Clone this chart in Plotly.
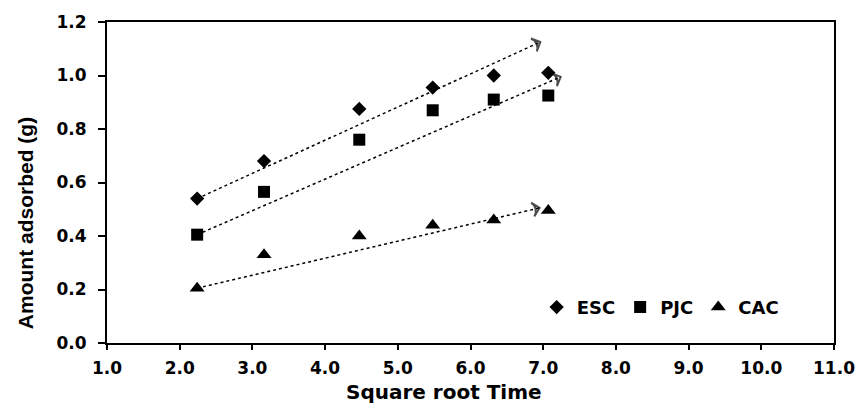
import plotly.graph_objects as go

# Square root of contact time (min^0.5)
sqrt_time = [2.24, 3.16, 4.47, 5.48, 6.32, 7.07]

# Amount adsorbed (g) for each adsorbent
esc = [0.54, 0.68, 0.875, 0.955, 1.00, 1.01]
pjc = [0.405, 0.565, 0.76, 0.87, 0.91, 0.925]
cac = [0.205, 0.33, 0.40, 0.44, 0.46, 0.495]

series_names = ["ESC", "PJC", "CAC"]
series_values = [esc, pjc, cac]
series_symbols = ["diamond", "square", "triangle-up"]
series_sizes = [11, 12, 13]

# Hand-drawn trend arrows: start and end (x, y) for each series
trend_start = [(2.24, 0.54), (2.24, 0.405), (2.24, 0.205)]
trend_end = [(6.96, 1.125), (7.24, 0.995), (6.95, 0.505)]

x_ticks = [1.0, 2.0, 3.0, 4.0, 5.0, 6.0, 7.0, 8.0, 9.0, 10.0, 11.0]
y_ticks = [0.0, 0.2, 0.4, 0.6, 0.8, 1.0, 1.2]

tick_font = dict(family="DejaVu Sans", size=17, color="black", weight="bold")

fig = go.Figure()

# Dotted trend lines ending in an open arrow head
for (x0, y0), (x1, y1) in zip(trend_start, trend_end):
    fig.add_trace(go.Scatter(
        x=[x0, x1], y=[y0, y1],
        mode="lines+markers",
        line=dict(color="black", width=1.5, dash="dot"),
        marker=dict(symbol=["circle", "arrow-wide-open"], size=[0, 10],
                    angleref="previous", color="black",
                    line=dict(color="black", width=2)),
        showlegend=False, hoverinfo="skip",
    ))

for name, vals, sym, sz in zip(series_names, series_values, series_symbols, series_sizes):
    fig.add_trace(go.Scatter(
        x=sqrt_time, y=vals, name=name, mode="markers",
        marker=dict(symbol=sym, size=sz, color="black"),
    ))

fig.update_layout(
    width=867, height=403,
    margin=dict(l=107, r=26, t=19, b=60),
    paper_bgcolor="white", plot_bgcolor="white",
    font=dict(family="DejaVu Sans", color="black"),
    legend=dict(
        orientation="h", x=0.591, xanchor="left", y=0.111, yanchor="middle",
        bgcolor="rgba(0,0,0,0)", borderwidth=0,
        font=dict(family="DejaVu Sans", size=18, color="black", weight="bold"),
        itemwidth=30,
    ),
    annotations=[
        dict(text="<b>Square root Time</b>", xref="paper", yref="paper",
             x=0.464, y=-0.153, xanchor="center", yanchor="middle",
             showarrow=False,
             font=dict(family="DejaVu Sans", size=20, color="black")),
        dict(text="<b>Amount adsorbed (g)</b>", xref="paper", yref="paper",
             x=-0.112, y=0.372, xanchor="center", yanchor="middle",
             textangle=-90, showarrow=False,
             font=dict(family="Liberation Sans", size=21, color="black")),
    ],
)

fig.update_xaxes(
    range=[1.0, 11.0], tickvals=x_ticks, tickformat=".1f",
    ticks="outside", ticklen=5, tickwidth=2, tickcolor="black",
    showline=True, linewidth=2, linecolor="black", mirror=True,
    showgrid=False, zeroline=False, tickfont=tick_font,
    ticklabelstandoff=4,
)
fig.update_yaxes(
    range=[0.0, 1.2], tickvals=y_ticks, tickformat=".1f",
    ticks="outside", ticklen=7, tickwidth=2, tickcolor="black",
    showline=True, linewidth=2, linecolor="black", mirror=True,
    showgrid=False, zeroline=False, tickfont=tick_font,
    ticklabelstandoff=8,
)

fig.write_html("out.html")
